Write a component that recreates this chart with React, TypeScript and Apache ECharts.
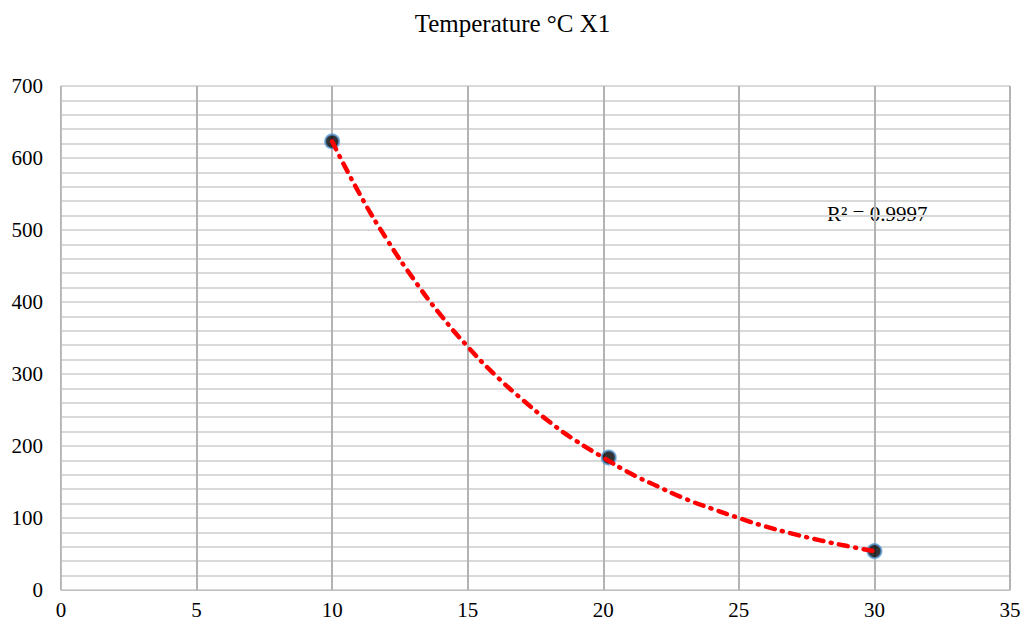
import React, { useEffect, useRef } from "react";
import * as echarts from "echarts";

const titleText = "Temperature °C X1";
const pointX = [10, 20.2, 30];
const pointY = [623, 184, 54];
// trendline
const trendX = [10, 11, 12, 13, 14, 15, 16, 17, 18, 19, 20, 21, 22, 23, 24, 25, 26, 27, 28, 29, 30];
const trendY = [623, 551, 488, 432, 382, 338, 299, 265, 234, 207, 184, 162, 144, 127, 113, 100, 88, 78, 69, 61, 54];
const r2Label = "R² = 0.9997";

export default function App() {
  const ref = useRef<HTMLDivElement>(null);
  useEffect(() => {
    const chart = echarts.init(ref.current!, null, { renderer: "svg" });
    const font = "'Liberation Serif', 'Times New Roman', serif";
    chart.setOption({
      animation: false,
      backgroundColor: "#ffffff",
      title: {
        text: titleText,
        left: "center",
        top: 6,
        textStyle: { fontFamily: font, fontSize: 25, fontWeight: "normal", color: "#000" },
      },
      grid: { left: 61, right: 15, top: 86, bottom: 33, containLabel: false },
      xAxis: {
        type: "value",
        min: 0,
        max: 35,
        interval: 5,
        axisLine: { show: true, lineStyle: { color: "#bfbfbf", width: 1 } },
        axisTick: { show: false },
        axisLabel: { fontFamily: font, fontSize: 21, color: "#000", margin: 9 },
        splitLine: { show: true, lineStyle: { color: "#b3b3b3", width: 2 } },
      },
      yAxis: {
        type: "value",
        min: 0,
        max: 700,
        interval: 100,
        axisLine: { show: true, lineStyle: { color: "#bfbfbf", width: 1 } },
        axisTick: { show: false },
        axisLabel: { fontFamily: font, fontSize: 21, color: "#000", margin: 18 },
        splitLine: { show: true, lineStyle: { color: "#d9d9d9", width: 2 } },
        minorTick: { show: false, splitNumber: 5 },
        minorSplitLine: { show: true, lineStyle: { color: "#d9d9d9", width: 2 } },
      },
      graphic: [
        {
          type: "text",
          left: 827,
          top: 203,
          style: { text: r2Label, font: `21px ${font}`, fill: "#000" },
        },
      ],
      series: [
        {
          type: "scatter",
          data: pointX.map((x, i) => [x, pointY[i]]),
          symbol: "circle",
          symbolSize: 14,
          itemStyle: { color: "#000", borderColor: "#5b9bd5", borderWidth: 2 },
          z: 2,
        },
        {
          type: "line",
          data: trendX.map((x, i) => [x, trendY[i]]),
          smooth: true,
          showSymbol: false,
          symbol: "none",
          lineStyle: { color: "#ff0000", width: 4.5, type: [9, 7.5, 1, 7.5], cap: "round" },
          z: 3,
        },
      ],
    });
    return () => chart.dispose();
  }, []);
  return (
    <div
      ref={ref}
      style={{ position: "absolute", left: 0, top: 0, width: 1025, height: 623 }}
    />
  );
}
